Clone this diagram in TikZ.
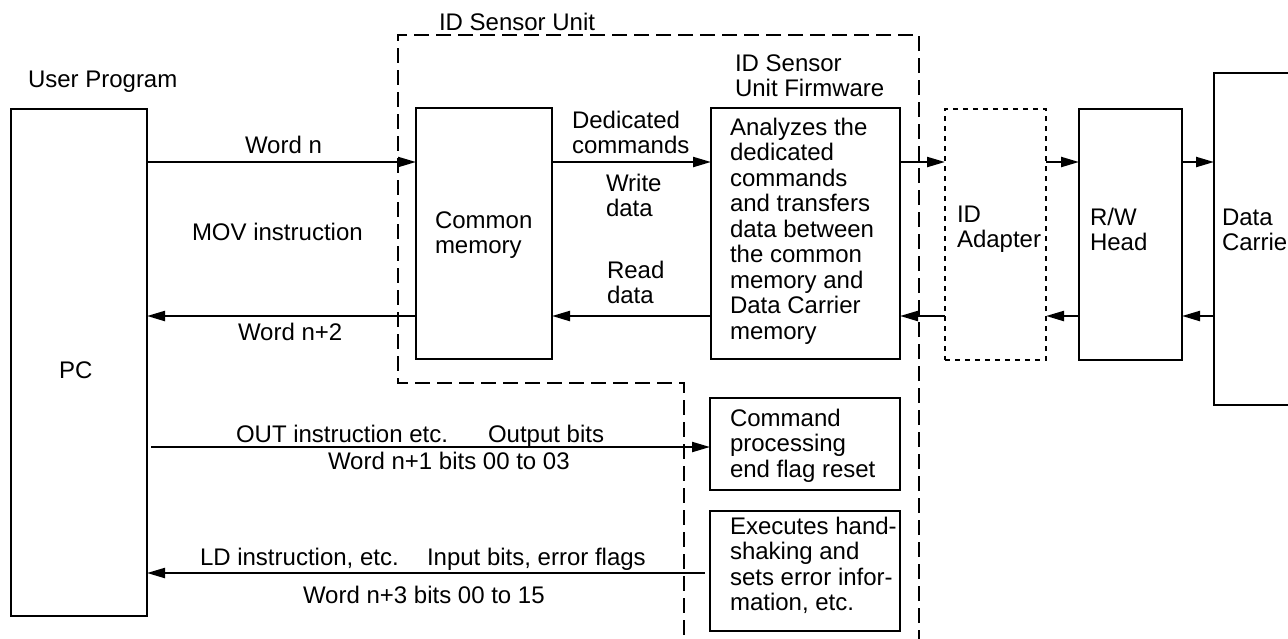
\documentclass[tikz,border=0pt]{standalone}
\usepackage{fontspec}
\setmainfont{Liberation Sans}
\usetikzlibrary{arrows.meta}
\newcommand{\mlines}[1]{\begin{tabular}[t]{@{}l@{}}#1\end{tabular}}
\begin{document}
\begin{tikzpicture}[x=1pt,y=-1pt,
  every node/.style={inner sep=0pt, outer sep=0pt, font=\fontsize{24}{25.5}\selectfont},
  box/.style={draw, line width=2.2pt, anchor=north west},
  dotbox/.style={draw, line width=2.2pt, dash pattern=on 5pt off 5pt, anchor=north west},
  txt/.style={anchor=base west},
  arr/.style={line width=2.2pt, -{Triangle[length=18pt,width=10pt]}},
  unitline/.style={line width=2.2pt, dash pattern=on 15pt off 7pt}]
\useasboundingbox (0,0) rectangle (1288,638);

% boxes
\node[box, minimum width=136pt, minimum height=507pt] (pc) at (11,109) {};
\node[box, minimum width=136pt, minimum height=251pt] (cm) at (416,108) {};
\node[box, minimum width=189pt, minimum height=251pt] (fw) at (711,108) {};
\node[dotbox, minimum width=101pt, minimum height=251pt] (ad) at (945,109) {};
\node[box, minimum width=103pt, minimum height=251pt] (rw) at (1079,109) {};
\node[box, minimum width=120pt, minimum height=332pt] (dc) at (1214,73) {};
\node[box, minimum width=190pt, minimum height=92pt] (cmd) at (710,398) {};
\node[box, minimum width=190pt, minimum height=120pt] (exe) at (710,511) {};

% ID Sensor Unit outline
\draw[unitline] (919,645) -- (919,35) -- (398,35) -- (398,383) -- (684,383) -- (684,645);

% rows
\coordinate (ra) at (0,162);
\coordinate (rb) at (0,316);
\coordinate (rc) at (0,447);
\coordinate (rd) at (0,573);

% connectors
\draw[arr] (pc.east |- ra) -- (cm.west |- ra);
\draw[arr] (cm.west |- rb) -- (pc.east |- rb);
\draw[arr] (cm.east |- ra) -- (fw.west |- ra);
\draw[arr] (fw.west |- rb) -- (cm.east |- rb);
\draw[arr] (fw.east |- ra) -- (ad.west |- ra);
\draw[arr] (ad.east |- ra) -- (rw.west |- ra);
\draw[arr] (rw.east |- ra) -- (dc.west |- ra);
\draw[arr] (dc.west |- rb) -- (rw.east |- rb);
\draw[arr] (rw.west |- rb) -- (ad.east |- rb);
\draw[arr] (ad.west |- rb) -- (fw.east |- rb);
\draw[arr, shorten <=4pt] (pc.east |- rc) -- (cmd.west |- rc);
\draw[arr, shorten <=5pt] (exe.west |- rd) -- (pc.east |- rd);

% texts
\node[txt] (tunit) at (439,30) {ID Sensor Unit};
\node[txt] (tuser) at (28,87) {User Program};
\node[txt] (tfwl) at (735,71) {\mlines{ID Sensor\\Unit Firmware}};
\node[txt] (tword) at (245,153) {Word n};
\node[txt] (tmov) at (192,240) {MOV instruction};
\node[txt] (tword2) at (238,340) {Word n+2};
\node[txt] (tcm) at (435,228) {\mlines{Common\\memory}};
\node[txt] (tded) at (572,128) {\mlines{Dedicated\\commands}};
\node[txt] (twr) at (606,191) {\mlines{Write\\data}};
\node[txt] (trd) at (607,278) {\mlines{Read\\data}};
\node[txt] (tfw) at (730,135) {\mlines{Analyzes the\\dedicated\\commands\\and transfers\\data between\\the common\\memory and\\Data Carrier\\memory}};
\node[txt] (tad) at (957,222) {\mlines{ID\\Adapter}};
\node[txt] (trw) at (1090,225) {\mlines{R/W\\Head}};
\node[txt] (tdc) at (1222,225) {\mlines{Data\\Carrier}};
\node[txt] (tpc) at (59,378) {PC};
\node[txt] (tout) at (236,442) {OUT instruction etc.};
\node[txt] (tobits) at (488,442) {Output bits};
\node[txt] (tw1) at (328,469) {Word n+1 bits 00 to 03};
\node[txt] (tld) at (200,565) {LD instruction, etc.};
\node[txt] (tibits) at (427,565) {Input bits, error flags};
\node[txt] (tw3) at (303,603) {Word n+3 bits 00 to 15};
\node[txt] (tcmd) at (730,426) {\mlines{Command\\processing\\end flag reset}};
\node[txt] (texe) at (730,534) {\mlines{Executes hand-\\shaking and\\sets error infor-\\mation, etc.}};
\end{tikzpicture}
\end{document}
